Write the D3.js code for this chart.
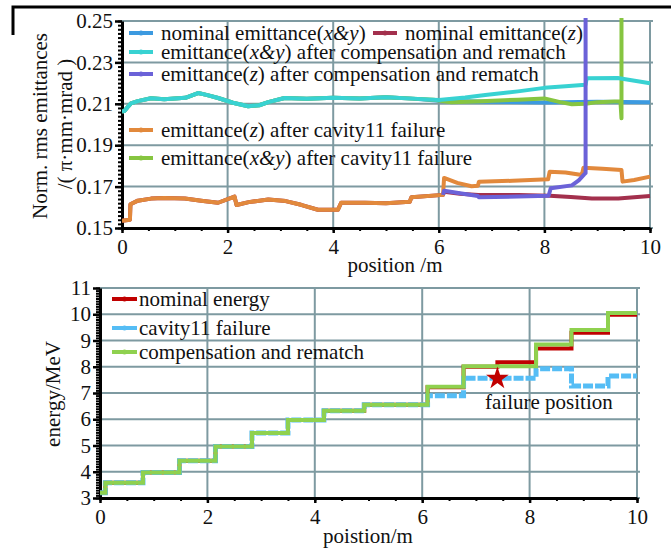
<!DOCTYPE html>
<html>
<head>
<meta charset="utf-8">
<script src="https://cdn.jsdelivr.net/npm/d3@7"></script>
<style>
body { margin: 0; background: #fff; }
text { font-family: "Liberation Serif", "Times New Roman", serif; fill: #111; }
</style>
</head>
<body>
<svg id="chart" width="671" height="548"></svg>
<script>
// ---- data ----
var posTicks = [0, 2, 4, 6, 8, 10];
var emitTicks = [0.15, 0.17, 0.19, 0.21, 0.23, 0.25];
var energyTicks = [3, 4, 5, 6, 7, 8, 9, 10, 11];

// x&y emittance, common part before the failure region
var xyStart = [[0,0.2062],[0.05,0.2066],[0.1,0.2082],[0.17,0.2102],[0.3,0.2113],[0.55,0.2127],[0.8,0.2122],[1.0,0.2126],
  [1.2,0.2129],[1.44,0.2152],[1.6,0.2143],[1.82,0.2128],[2.1,0.2105],[2.39,0.2088],[2.6,0.2093],[2.77,0.2108],
  [3.08,0.2128],[3.5,0.2124],[4.0,0.2129],[4.5,0.2126],[5.0,0.2132],[5.5,0.2125]];
var nominalXY = xyStart.concat([[6.0,0.2115],[7.0,0.2110],[8.0,0.2106],[9.0,0.2110],[10,0.2108]]);
var rematchXY = xyStart.concat([[6.0,0.2118],[6.5,0.2130],[6.88,0.2142],[7.5,0.2160],[8.0,0.2177],[8.4,0.2185],
  [8.78,0.2192],[8.8,0.2223],[9.39,0.2225],[10,0.2199]]);
var failXY = xyStart.concat([[5.9,0.2120],[6.24,0.2107],[6.8,0.2112],[7.5,0.2120],[8.0,0.2126],[8.3,0.2108],
  [8.52,0.2098],[8.78,0.2100],[9.0,0.2108],[9.44,0.2112],[9.46,0.2030],[9.46,0.2600]]);

var zStart = [[0,0.1535],[0.15,0.1540],[0.16,0.1615],[0.3,0.1632],[0.55,0.1642],[0.8,0.1645],[1.19,0.1643],
  [1.5,0.1632],[1.82,0.1622],[2.13,0.1652],[2.17,0.1611],[2.4,0.1625],[2.77,0.1638],[3.1,0.1630],[3.39,0.1612],
  [3.71,0.1588],[4.09,0.1588],[4.15,0.1622],[4.6,0.1622],[5.0,0.1620],[5.45,0.1627],[5.48,0.1648],[6.08,0.1660]];
var nominalZ = zStart.concat([[6.1,0.1675],[6.4,0.1665],[6.75,0.1660],[7.5,0.1660],[8.1,0.1656],[8.5,0.1650],
  [8.9,0.1643],[9.4,0.1643],[10,0.1655]]);
var failZ = zStart.concat([[6.1,0.1742],[6.35,0.1718],[6.62,0.1702],[6.74,0.1704],[6.76,0.1724],[7.4,0.1728],
  [8.07,0.1735],[8.1,0.1772],[8.4,0.1768],[8.71,0.1756],[8.74,0.1791],[9.1,0.1786],[9.46,0.1780],[9.48,0.1724],
  [9.7,0.1732],[10,0.1748]]);
var rematchZ = [[6.08,0.1660],[6.1,0.1680],[6.4,0.1668],[6.74,0.1655],[6.76,0.1648],[7.5,0.1652],[8.08,0.1656],
  [8.12,0.1692],[8.52,0.1706],[8.65,0.1730],[8.75,0.1758],[8.78,0.1765],[8.78,0.2700]];

// energy: step edges (m) and level of each step (MeV)
var stepEdges = [0, 0.1, 0.8, 1.48, 2.15, 2.83, 3.5, 4.17, 4.92, 6.1, 6.77, 7.4, 8.12, 8.78, 9.46, 10];
var nominalEnergy = [3.2, 3.58, 3.97, 4.42, 4.96, 5.48, 5.97, 6.32, 6.55, 7.22, 8.0, 8.17, 8.7, 9.3, 9.98];
var failureEnergy = [3.2, 3.58, 3.97, 4.42, 4.96, 5.48, 5.97, 6.32, 6.55, 6.9, 7.56, 7.56, 7.92, 7.27, 7.65];
var rematchEnergy = [3.2, 3.58, 3.97, 4.42, 4.96, 5.48, 5.97, 6.32, 6.55, 7.24, 8.02, 8.02, 8.85, 9.4, 10.05];
var failurePoint = [7.4, 7.55];

var gridColor = "#7e9aa1";
var svg = d3.select("#chart");

// cropped figure frame
svg.append("path").attr("d", "M13,35V7H671").attr("fill", "none").attr("stroke", "#000").attr("stroke-width", 3);

function drawFrame(g, x, y, yMajor, yMinorStep) {
  var x0 = x.range()[0], x1 = x.range()[1], y0 = y.range()[0], y1 = y.range()[1];
  // grid
  g.append("g").selectAll("line").data(posTicks).enter().append("line")
    .attr("x1", function(d) { return x(d); }).attr("x2", function(d) { return x(d); })
    .attr("y1", y0).attr("y2", y1)
    .attr("stroke", gridColor).attr("stroke-width", 2);
  g.append("g").selectAll("line").data(yMajor).enter().append("line")
    .attr("x1", x0).attr("x2", x1 + 3)
    .attr("y1", function(d) { return y(d); }).attr("y2", function(d) { return y(d); })
    .attr("stroke", gridColor).attr("stroke-width", 2);

  // minor ticks
  var d0 = y.domain()[0], d1 = y.domain()[1], minors = [];
  for (var v = d0; v <= d1 + 1e-9; v += yMinorStep) minors.push(v);
  g.append("g").attr("transform", "translate(" + x0 + ",0)")
    .call(d3.axisLeft(y).tickValues(minors).tickSize(4).tickFormat(""))
    .call(function(a) { a.select(".domain").remove(); a.selectAll("line").attr("stroke-width", 2); });
  var xMinors = d3.range(0, 10.01, 0.5);
  g.append("g").attr("transform", "translate(0," + y0 + ")")
    .call(d3.axisBottom(x).tickValues(xMinors).tickSize(3).tickFormat(""))
    .call(function(a) { a.select(".domain").remove(); a.selectAll("line").attr("stroke-width", 2); });

  // major axes
  g.append("g").attr("transform", "translate(" + x0 + ",0)")
    .call(d3.axisLeft(y).tickValues(yMajor).tickSize(7).tickPadding(2).tickSizeOuter(0)
      .tickFormat(function(d) { return yMinorStep < 0.01 ? d3.format(".2f")(d) : d; }))
    .call(function(a) {
      a.select(".domain").attr("stroke-width", 3);
      a.selectAll("line").attr("stroke-width", 2.5);
      a.selectAll("text").attr("font-size", 21).attr("font-family", "Liberation Serif").attr("fill", "#111");
    });
  g.append("g").attr("transform", "translate(0," + y0 + ")")
    .call(d3.axisBottom(x).tickValues(posTicks).tickSize(5).tickPadding(6).tickSizeOuter(0))
    .call(function(a) {
      a.select(".domain").attr("stroke-width", 3);
      a.selectAll("line").attr("stroke-width", 2.5);
      a.selectAll("text").attr("font-size", 21).attr("font-family", "Liberation Serif").attr("fill", "#111");
    });
}

function drawLegend(g, items, lineLen, gap) {
  var li = g.selectAll("g.leg").data(items).enter().append("g").attr("class", "leg")
    .attr("transform", function(d) { return "translate(" + d.x + "," + d.y + ")"; });
  li.append("line").attr("x1", 0).attr("x2", lineLen).attr("y1", 0).attr("y2", 0)
    .attr("stroke", function(d) { return d.color; }).attr("stroke-width", 4);
  li.append("circle").attr("cx", lineLen / 2).attr("cy", 0).attr("r", 2.5)
    .attr("fill", function(d) { return d.color; });
  var t = li.append("text").attr("x", lineLen + gap).attr("y", 7).attr("font-size", 21);
  t.each(function(d) {
    var el = d3.select(this);
    d.parts.forEach(function(p) {
      el.append("tspan").attr("font-style", p[1] ? "italic" : null).text(p[0]);
    });
  });
}

// ================= top chart: emittances =================
var xT = d3.scaleLinear().domain([0, 10]).range([122, 650]);
var yT = d3.scaleLinear().domain([0.15, 0.25]).range([228, 21]);
var topG = svg.append("g");
drawFrame(topG, xT, yT, emitTicks, 0.002);

svg.append("clipPath").attr("id", "clipT").append("rect")
  .attr("x", 122).attr("y", 18).attr("width", 531).attr("height", 212);

var lineT = d3.line().x(function(d) { return xT(d[0]); }).y(function(d) { return yT(d[1]); });
var topSeries = [
  { data: nominalXY, color: "#3c9ae0" },
  { data: failXY, color: "#86c540" },
  { data: rematchXY, color: "#38d2d2" },
  { data: nominalZ, color: "#a3304d" },
  { data: failZ, color: "#e2893c" },
  { data: rematchZ, color: "#6b62d8" }
];
topG.append("g").attr("clip-path", "url(#clipT)")
  .selectAll("path").data(topSeries).enter().append("path")
  .attr("d", function(d) { return lineT(d.data); })
  .attr("fill", "none")
  .attr("stroke", function(d) { return d.color; })
  .attr("stroke-width", 4)
  .attr("stroke-linejoin", "round");

topG.append("text").attr("x", 395).attr("y", 272).attr("text-anchor", "middle")
  .attr("font-size", 21).text("position /m");
topG.append("text").attr("transform", "translate(47,126) rotate(-90)").attr("text-anchor", "middle")
  .attr("font-size", 21).text("Norm. rms emittances");
topG.append("text").attr("transform", "translate(72,124) rotate(-90)").attr("text-anchor", "middle")
  .attr("font-size", 21).text("/( \u03c0\u00b7mm\u00b7mrad )");

var topLegend = [
  { x: 129, y: 33, color: "#3c9ae0", parts: [["nominal emittance("], ["x&y", 1], [")"]] },
  { x: 373, y: 33, color: "#a3304d", parts: [["nominal emittance("], ["z", 1], [")"]] },
  { x: 129, y: 52, color: "#38d2d2", parts: [["emittance("], ["x&y", 1], [") after compensation and rematch"]] },
  { x: 129, y: 74, color: "#6b62d8", parts: [["emittance("], ["z", 1], [") after compensation and rematch"]] },
  { x: 129, y: 130, color: "#e2893c", parts: [["emittance("], ["z", 1], [") after cavity11 failure"]] },
  { x: 129, y: 158, color: "#86c540", parts: [["emittance("], ["x&y", 1], [") after cavity11 failure"]] }
];
drawLegend(topG, topLegend, 24, 8);

// ================= bottom chart: energy =================
var xB = d3.scaleLinear().domain([0, 10]).range([100, 637]);
var yB = d3.scaleLinear().domain([3, 11]).range([498, 288]);
var botG = svg.append("g");
drawFrame(botG, xB, yB, energyTicks, 0.1);

function stepPoints(levels) {
  var pts = levels.map(function(v, i) { return [stepEdges[i], v]; });
  pts.push([stepEdges[stepEdges.length - 1], levels[levels.length - 1]]);
  return pts;
}
var lineB = d3.line().curve(d3.curveStepAfter)
  .x(function(d) { return xB(d[0]); }).y(function(d) { return yB(d[1]); });
var botSeries = [
  { data: nominalEnergy, color: "#c00000", width: 4, dash: null },
  { data: failureEnergy, color: "#55bdf5", width: 5, dash: "10,2" },
  { data: rematchEnergy, color: "#8fd14f", width: 4, dash: null }
];
botG.append("g").selectAll("path").data(botSeries).enter().append("path")
  .attr("d", function(d) { return lineB(stepPoints(d.data)); })
  .attr("fill", "none")
  .attr("stroke", function(d) { return d.color; })
  .attr("stroke-width", function(d) { return d.width; })
  .attr("stroke-dasharray", function(d) { return d.dash; });

botG.append("path")
  .attr("d", d3.symbol().type(d3.symbolStar).size(160)())
  .attr("transform", "translate(" + xB(failurePoint[0]) + "," + yB(failurePoint[1]) + ")")
  .attr("fill", "#c00000");
botG.append("text").attr("x", xB(7.17)).attr("y", yB(6.4)).attr("font-size", 21).text("failure position");

botG.append("text").attr("x", 368).attr("y", 543).attr("text-anchor", "middle")
  .attr("font-size", 21).text("poistion/m");
botG.append("text").attr("transform", "translate(60,394) rotate(-90)").attr("text-anchor", "middle")
  .attr("font-size", 21).text("energy/MeV");

var botLegend = [
  { x: 112, y: 299, color: "#c00000", parts: [["nominal energy"]] },
  { x: 112, y: 328, color: "#55bdf5", parts: [["cavity11 failure"]] },
  { x: 112, y: 352, color: "#8fd14f", parts: [["compensation and rematch"]] }
];
drawLegend(botG, botLegend, 25, 2);
</script>
</body>
</html>
